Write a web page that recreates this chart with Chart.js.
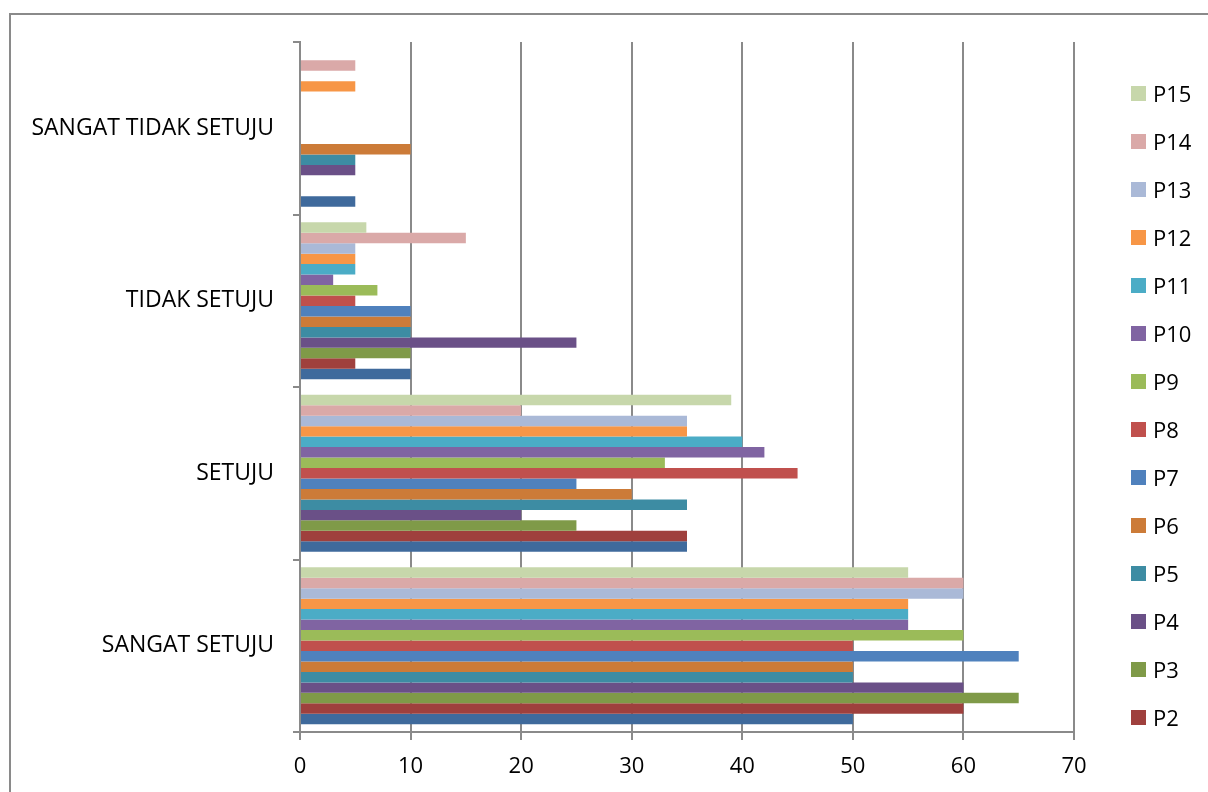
<!DOCTYPE html>
<html>
<head>
<meta charset="utf-8">
<script src="https://cdn.jsdelivr.net/npm/chart.js@4/dist/chart.umd.min.js"></script>
<style>
  html, body { margin: 0; padding: 0; background: #ffffff; }
  #wrap { position: relative; width: 1208px; height: 792px; overflow: hidden; font-family: "Open Sans", sans-serif; }
  #frame { position: absolute; left: 9px; top: 13px; width: 1400px; height: 1000px; border: 2px solid #8a8a8a; box-sizing: border-box; }
  #chart { position: absolute; left: 0; top: 0; }
  #legend { position: absolute; left: 1131px; top: 69px; width: 77px; height: 672px; overflow: hidden; }
  .item { height: 48px; display: flex; align-items: center; font-size: 22px; color: #000; white-space: nowrap; }
  .swatch { width: 15px; height: 15px; margin-right: 7px; flex: none; }
</style>
</head>
<body>
<div id="wrap">
  <div id="frame"></div>
  <canvas id="chart" width="1208" height="792"></canvas>
  <div id="legend"></div>
</div>
<script>
// Response categories (first one is drawn at the bottom)
const categories = ['SANGAT SETUJU', 'SETUJU', 'TIDAK SETUJU', 'SANGAT TIDAK SETUJU'];

// Question names
const seriesNames = ['P1','P2','P3','P4','P5','P6','P7','P8','P9','P10','P11','P12','P13','P14','P15'];

// Percentages per question, in category order
const P1  = [50, 35, 10, 5];
const P2  = [60, 35, 5, 0];
const P3  = [65, 25, 10, 0];
const P4  = [60, 20, 25, 5];
const P5  = [50, 35, 10, 5];
const P6  = [50, 30, 10, 10];
const P7  = [65, 25, 10, 0];
const P8  = [50, 45, 5, 0];
const P9  = [60, 33, 7, 0];
const P10 = [55, 42, 3, 0];
const P11 = [55, 40, 5, 0];
const P12 = [55, 35, 5, 5];
const P13 = [60, 35, 5, 0];
const P14 = [60, 20, 15, 5];
const P15 = [55, 39, 6, 0];
const seriesValues = [P1, P2, P3, P4, P5, P6, P7, P8, P9, P10, P11, P12, P13, P14, P15];

// Value axis ticks
const xTicks = [0, 10, 20, 30, 40, 50, 60, 70];

const seriesColors = [
  '#3f6a9c', '#9f403d', '#7f9a48', '#6a5087', '#3d8ca3', '#cc7b38',
  '#4f81bd', '#c0504d', '#9bbb59', '#8064a2', '#4bacc6', '#f79646',
  '#aab9d7', '#daa9a8', '#c7d7ab'
];

const gridColor = '#8a8a8a';

// Bars of each category are stacked top-down from the last question to the first
const datasets = seriesNames.map((name, i) => ({
  label: name,
  data: seriesValues[i],
  backgroundColor: seriesColors[i],
  borderWidth: 0,
  categoryPercentage: 0.91,
  barPercentage: 1.0
})).reverse();

Chart.defaults.font.family = '"Open Sans", sans-serif';
Chart.defaults.font.size = 22;
Chart.defaults.color = '#000000';

new Chart(document.getElementById('chart'), {
  type: 'bar',
  data: { labels: categories, datasets },
  options: {
    indexAxis: 'y',
    responsive: false,
    animation: false,
    layout: { padding: { top: 42, right: 134, left: 0, bottom: 0 } },
    plugins: { legend: { display: false }, tooltip: { enabled: false } },
    scales: {
      x: {
        min: xTicks[0],
        max: xTicks[xTicks.length - 1],
        afterBuildTicks: (scale) => { scale.ticks = xTicks.map(v => ({ value: v })); },
        afterFit: (scale) => { scale.height = 60; },
        grid: { color: gridColor, lineWidth: 2, drawTicks: true, tickLength: 8, tickColor: gridColor },
        border: { color: gridColor, width: 2 },
        ticks: { padding: 14, font: { size: 22 }, color: '#000' }
      },
      y: {
        reverse: true,
        afterFit: (scale) => { scale.width = 300; },
        grid: { display: true, drawOnChartArea: false, drawTicks: true, tickLength: 7, color: gridColor, lineWidth: 2, offset: true },
        border: { color: gridColor, width: 2 },
        ticks: { padding: 19, font: { size: 23 }, color: '#000' }
      }
    }
  }
});

// Legend listed from the last question down
const legend = document.getElementById('legend');
for (let i = seriesNames.length - 1; i >= 0; i--) {
  const item = document.createElement('div');
  item.className = 'item';
  const sw = document.createElement('span');
  sw.className = 'swatch';
  sw.style.background = seriesColors[i];
  const tx = document.createElement('span');
  tx.textContent = seriesNames[i];
  item.appendChild(sw);
  item.appendChild(tx);
  legend.appendChild(item);
}
</script>
</body>
</html>
